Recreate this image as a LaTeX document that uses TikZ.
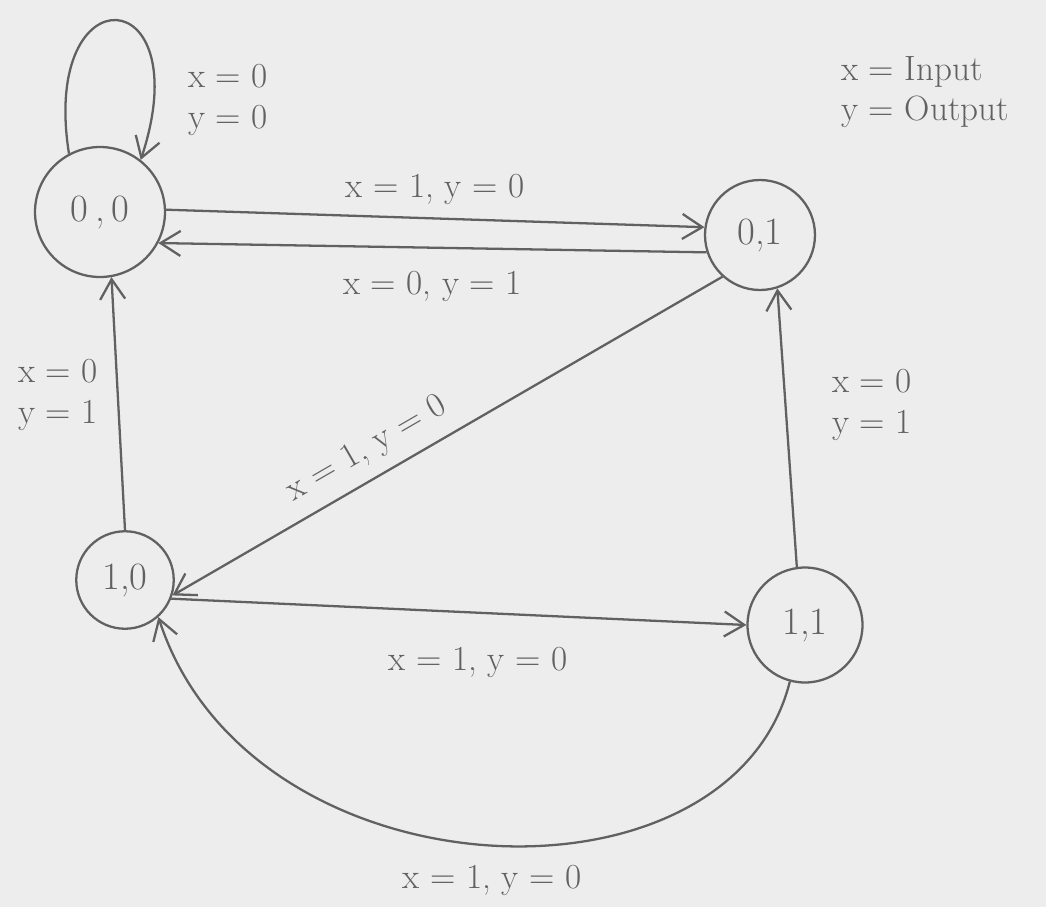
\documentclass[tikz,border=0pt]{standalone}
\usepackage{xcolor}
\usepackage{tikz}
\usetikzlibrary{arrows.meta,positioning}

\definecolor{pencil}{gray}{0.38}
\definecolor{paper}{gray}{0.93}

\begin{document}
\begin{tikzpicture}[x=0.02cm,y=-0.02cm, state/.style={draw=pencil,circle,line width=1.3pt,inner sep=0pt,font=\fontsize{22}{24}\selectfont,text=pencil}, rel/.style={-{Straight Barb[length=4mm,width=5mm]},line width=1.3pt,draw=pencil}, lbl/.style={text=pencil,font=\fontsize{20}{23}\selectfont,align=left,inner sep=1pt}]
\fill[paper] (0,0) rectangle (1046,907);
\useasboundingbox (0,0) rectangle (1046,907);
\node[state,minimum size=2.6cm] (s00) at (100,212) {0\,,\,0};
\node[state,minimum size=2.2cm] (s01) at (760,235) {0,1};
\node[state,minimum size=1.95cm] (s10) at (125,580) {1,0};
\node[state,minimum size=2.3cm] (s11) at (805,625) {1,1};
\node[lbl] (legend) at (925,92) {x = Input\\y = Output};
% self loop on 0,0
\draw[rel] (s00.118) .. controls (40,-30) and (200,-20) .. (s00.52);
\node[lbl] (l00) at (228,100) {x = 0\\y = 0};
% between 0,0 and 0,1
\draw[rel] (s00.2) -- node[lbl,above=6pt]{x = 1, y = 0} (s01.172);
\draw[rel] (s01.198) -- node[lbl,below=12pt]{x = 0, y = 1} (s00.-28);
% 1,0 to 0,0
\draw[rel] (s10.north) -- (s00.-80);
\node[lbl] (l3) at (58,395) {x = 0\\y = 1};
% 0,1 to 1,0
\draw[rel] (s01.228) -- node[lbl,sloped,above=6pt,pos=0.62]{x = 1, y = 0} (s10.-18);
% 1,0 to 1,1
\draw[rel] (s10.-22) -- (s11.west);
\node[lbl] (l5) at (478,662) {x = 1, y = 0};
% 1,1 to 0,1
\draw[rel] (s11.98) -- (s01.-72);
\node[lbl] (l6) at (872,405) {x = 0\\y = 1};
% 1,1 back to 1,0
\draw[rel] (s11.-105) .. controls (730,920) and (250,900) .. (s10.-48);
\node[lbl] (l7) at (492,880) {x = 1, y = 0};
\end{tikzpicture}
\end{document}
